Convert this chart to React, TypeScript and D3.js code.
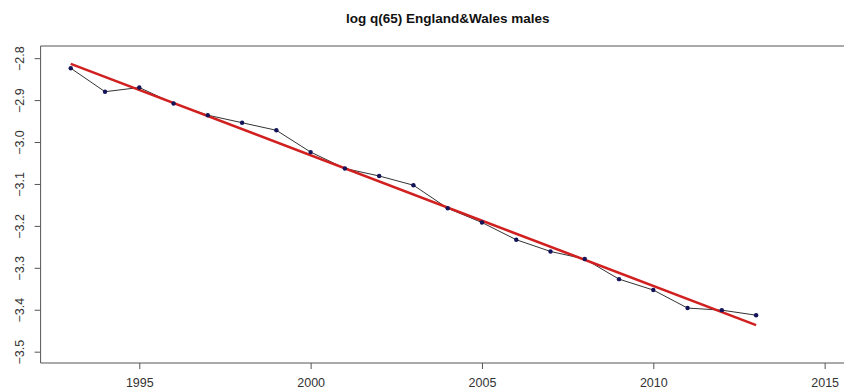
import { useEffect, useRef } from 'react'
import * as d3 from 'd3'

const years = [1993, 1994, 1995, 1996, 1997, 1998, 1999, 2000, 2001, 2002, 2003,
  2004, 2005, 2006, 2007, 2008, 2009, 2010, 2011, 2012, 2013]
const logQ65 = [-2.824, -2.880, -2.870, -2.908, -2.936, -2.954, -2.972, -3.024, -3.063, -3.081, -3.103,
  -3.158, -3.192, -3.233, -3.261, -3.279, -3.327, -3.353, -3.396, -3.401, -3.413]
const xTicks = [1995, 2000, 2005, 2010, 2015]
const yTicks = [-2.8, -2.9, -3.0, -3.1, -3.2, -3.3, -3.4, -3.5]
const title = 'log q(65) England&Wales males'

export default function App() {
  const svgRef = useRef<SVGSVGElement>(null)

  useEffect(() => {
    if (!svgRef.current) return
    const svg = d3.select(svgRef.current)
    svg.selectAll('*').remove()

    const font = 'Liberation Sans, Arial, sans-serif'
    const left = 40.6, right = 854.8, top = 46, bottom = 363

    const x = d3.scaleLinear().domain([1992.12, 2015.88]).range([left, right])
    const y = d3.scaleLinear().domain([-2.771, -3.527]).range([top, bottom])

    const pts = years.map((yr, i) => ({ yr, v: logQ65[i] }))

    // least squares fit of the series (the red line)
    const mx = d3.mean(years) as number
    const my = d3.mean(logQ65) as number
    const sxy = d3.sum(pts, d => (d.yr - mx) * (d.v - my))
    const sxx = d3.sum(pts, d => (d.yr - mx) ** 2)
    const slope = sxy / sxx
    const fit = (yr: number) => my + slope * (yr - mx)

    // title
    svg.append('text')
      .attr('x', (left + right) / 2)
      .attr('y', 23)
      .attr('text-anchor', 'middle')
      .attr('font-family', font)
      .attr('font-weight', 'bold')
      .attr('font-size', 13.5)
      .attr('fill', '#111')
      .text(title)

    // box (right side falls outside the picture)
    const box = svg.append('g').attr('stroke', '#555').attr('stroke-width', 1)
    box.append('line').attr('x1', left).attr('x2', right).attr('y1', top).attr('y2', top)
    box.append('line').attr('x1', left).attr('x2', right).attr('y1', bottom).attr('y2', bottom)
    box.append('line').attr('x1', left).attr('x2', left).attr('y1', top).attr('y2', bottom)

    // x axis
    const xa = svg.append('g')
      .attr('transform', `translate(0,${bottom})`)
      .call(d3.axisBottom(x).tickValues(xTicks).tickFormat(d3.format('d')).tickSize(6).tickPadding(9))
    xa.select('.domain').remove()
    xa.selectAll('line').attr('stroke', '#555')
    xa.selectAll('text').attr('font-family', font).attr('font-size', 12.5).attr('fill', '#333')

    // y axis
    const ya = svg.append('g')
      .attr('transform', `translate(${left},0)`)
      .call(d3.axisLeft(y).tickValues(yTicks).tickFormat(d3.format('.1f')).tickSize(6).tickPadding(0))
    ya.select('.domain').remove()
    ya.selectAll('line').attr('stroke', '#555')
    ya.selectAll('text')
      .attr('font-family', font).attr('font-size', 12.5).attr('fill', '#333')
      .attr('x', null).attr('dy', null)
      .attr('text-anchor', 'middle')
      .attr('transform', 'translate(-16.5,0) rotate(-90)')

    // observed series
    const line = d3.line<{ yr: number, v: number }>().x(d => x(d.yr)).y(d => y(d.v))
    svg.append('path')
      .datum(pts)
      .attr('fill', 'none')
      .attr('stroke', '#333')
      .attr('stroke-width', 1)
      .attr('d', line)

    // fitted line
    const ends = d3.extent(years) as [number, number]
    svg.append('line')
      .attr('x1', x(ends[0])).attr('y1', y(fit(ends[0])))
      .attr('x2', x(ends[1])).attr('y2', y(fit(ends[1])))
      .attr('stroke', '#d12020')
      .attr('stroke-width', 2.6)

    svg.append('g').selectAll('circle')
      .data(pts)
      .join('circle')
      .attr('cx', d => x(d.yr))
      .attr('cy', d => y(d.v))
      .attr('r', 2.2)
      .attr('fill', '#14145a')
  }, [])

  return (
    <div style={{ position: 'fixed', left: 0, top: 0, width: 844, height: 392, overflow: 'hidden', background: '#fff' }}>
      <svg ref={svgRef} width={870} height={392} style={{ display: 'block' }}></svg>
    </div>
  )
}
